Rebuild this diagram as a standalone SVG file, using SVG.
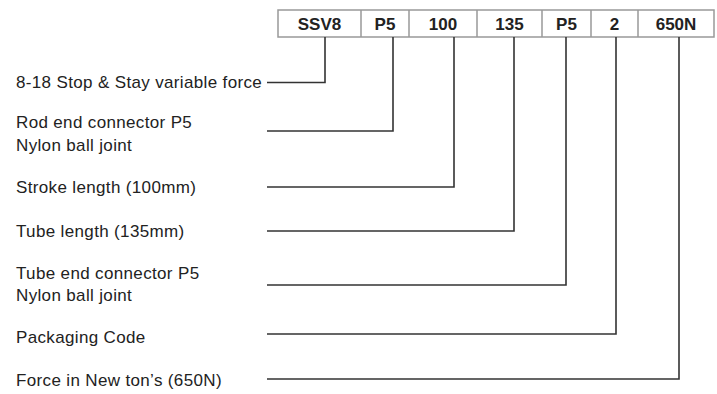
<svg xmlns="http://www.w3.org/2000/svg" width="717" height="394" viewBox="0 0 717 394">
<style>
.lbl{font-family:"Liberation Sans",Arial,sans-serif;font-size:17px;letter-spacing:0.35px;fill:#222}
.hdr{font-family:"Liberation Sans",Arial,sans-serif;font-size:17px;font-weight:bold;fill:#222;text-anchor:middle}
.cell{fill:#fff;stroke:#999;stroke-width:1.5}
.conn{fill:none;stroke:#333;stroke-width:1.6}
</style>
<rect width="717" height="394" fill="#fff"/>
<g id="code">
<rect class="cell" x="278" y="10" width="436" height="27"/>
<path d="M361 10V37M409 10V37M477 10V37M542 10V37M591 10V37M638 10V37" stroke="#999" stroke-width="1.5"/>
<text class="hdr" x="319.5" y="30">SSV8</text>
<text class="hdr" x="385" y="30">P5</text>
<text class="hdr" x="443" y="30">100</text>
<text class="hdr" x="509.5" y="30">135</text>
<text class="hdr" x="566.5" y="30">P5</text>
<text class="hdr" x="614.5" y="30">2</text>
<text class="hdr" x="676" y="30">650N</text>
</g>
<g id="labels">
<text class="lbl" x="16" y="88">8-18 Stop &amp; Stay variable force</text>
<text class="lbl" x="16" y="128">Rod end connector P5</text>
<text class="lbl" x="16" y="151">Nylon ball joint</text>
<text class="lbl" x="16" y="193">Stroke length (100mm)</text>
<text class="lbl" x="16" y="237">Tube length (135mm)</text>
<text class="lbl" x="16" y="279">Tube end connector P5</text>
<text class="lbl" x="16" y="301">Nylon ball joint</text>
<text class="lbl" x="16" y="343">Packaging Code</text>
<text class="lbl" x="16" y="386">Force in New ton’s (650N)</text>
</g>
<g id="connectors">
<path class="conn" d="M267 82.5H325V37"/>
<path class="conn" d="M267 131H393V37"/>
<path class="conn" d="M267 187H454V37"/>
<path class="conn" d="M267 231H514V37"/>
<path class="conn" d="M267 285H566V37"/>
<path class="conn" d="M267 334H616V37"/>
<path class="conn" d="M267 379H679V37"/>
</g>
</svg>
